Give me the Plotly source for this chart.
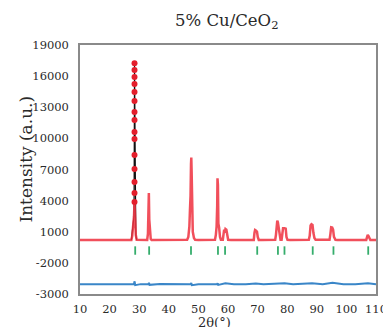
import plotly.graph_objects as go

# ---------------- data ----------------
# observed profile (2theta, intensity)
obs_two_theta = [
    10, 12, 14, 16, 18, 20, 22, 24, 26,
    27.35, 27.65, 27.95, 28.25, 28.42, 28.6, 28.85, 29.15,
    30, 31,
    32.7, 32.95, 33.12, 33.26, 33.4, 33.6, 33.9, 34.2,
    35, 37, 39, 41, 43, 45,
    46.2, 46.6, 46.95, 47.15, 47.35, 47.5, 47.6, 47.7, 47.85, 48.1, 48.5, 48.9,
    50, 52, 54,
    55.6, 55.9, 56.15, 56.35, 56.45, 56.6, 56.75, 57.0, 57.3, 57.6,
    58.25, 58.55, 58.7, 58.9, 59.15, 59.45, 59.7, 60.05,
    61, 63, 65, 67, 68.5,
    68.7, 68.95, 69.15, 69.5, 69.8, 70.05, 70.4,
    71.5, 73, 75,
    75.95, 76.2, 76.45, 76.65, 76.85, 77.1, 77.35, 77.75,
    78.1, 78.4, 78.6, 79.1, 79.5, 79.75, 80.1,
    81, 83, 85,
    87.3, 87.6, 87.9, 88.2, 88.55, 88.85, 89.2, 89.6,
    90.5, 92,
    94.3, 94.6, 94.85, 95.2, 95.5, 95.8, 96.3,
    97, 99, 101, 103, 105,
    106.7, 107.0, 107.2, 107.45, 107.7, 108.1,
    108.5, 110,
]
obs_intensity = [
    205, 210, 200, 215, 205, 210, 200, 210, 205,
    210, 600, 1400, 2500, 3870, 2000, 700, 220,
    210, 205,
    210, 800, 2500, 4740, 2200, 800, 300, 210,
    210, 205, 210, 200, 205, 210,
    220, 500, 1500, 3100, 4500, 7500, 8160, 7000, 2500, 1000, 400, 220,
    210, 205, 200,
    220, 700, 1500, 3500, 6150, 5500, 1800, 1400, 500, 230,
    230, 700, 1200, 900, 1270, 1200, 500, 220,
    210, 205, 200, 210, 205,
    210, 900, 1170, 1100, 1000, 500, 210,
    205, 210, 205,
    230, 700, 1700, 2070, 1900, 1300, 600, 230,
    230, 1000, 1330, 1330, 1300, 500, 220,
    205, 210, 200,
    220, 600, 1600, 1720, 1650, 900, 400, 220,
    210, 205,
    220, 800, 1430, 1400, 1200, 500, 220,
    205, 210, 200, 205, 210,
    210, 500, 690, 600, 350, 210,
    205, 205,
]

# observed points at the top of the strongest reflection (shown as separate dots)
peak_top_two_theta = [28.42] * 15
peak_top_intensity = [17240, 16590, 15920, 15240, 14470, 13600, 12540, 11770,
                      10610, 9940, 8400, 7050, 5800, 4740, 3870]

# calculated profile around the strongest reflection
calc_two_theta = [27.35, 27.95, 28.25, 28.42, 28.6, 28.85, 29.15]
calc_intensity = [210, 1400, 2500, 17240, 2000, 700, 220]

# difference curve
diff_two_theta = [10, 15, 20, 25, 28.2, 28.45, 28.65, 30.5, 33.1, 33.3, 33.5, 37, 41, 44.5,
                  47.4, 47.6, 47.8, 50, 53, 56.3, 56.5, 56.7, 59.1, 62, 66, 69.4,
                  72, 76.8, 79.1, 82, 85, 88.4, 92, 95.3, 99, 103, 107.3, 110]
diff_intensity = [-4050, -4040, -4060, -4050, -4060, -3780, -4150, -4050, -4060, -3920, -4120,
                  -4040, -4060, -4050, -4070, -3930, -4150, -4050, -4040, -4070, -3960, -4120,
                  -3970, -4050, -4060, -3990, -4050, -3960, -3970, -4050, -4040, -3970, -4050,
                  -3920, -4050, -4060, -3970, -4050]

# Bragg reflection positions (CeO2)
bragg_two_theta = [28.65, 33.36, 47.5, 56.61, 59.01, 69.87, 76.87, 79.08, 88.62, 95.63, 107.37]
bragg_level = -810

# axes
x_ticks = [10, 20, 30, 40, 50, 60, 70, 80, 90, 100, 110]
y_tickvals = [-5000, -2000, 1000, 4000, 7000, 10000, 13000, 16000, 19000]
y_ticktext = ["-3000", "-2000", "1000", "4000", "7000", "10000", "13000", "16000", "19000"]

FONT = "DejaVu Serif"
TXT = "#2a2a2a"

fig = go.Figure()

fig.add_trace(go.Scatter(x=calc_two_theta, y=calc_intensity, mode="lines",
                         line=dict(color="#111111", width=1.2), showlegend=False))
fig.add_trace(go.Scatter(x=obs_two_theta, y=obs_intensity, mode="lines",
                         line=dict(color="rgba(238,48,62,0.85)", width=2.5), showlegend=False))
fig.add_trace(go.Scatter(x=peak_top_two_theta, y=peak_top_intensity, mode="markers",
                         marker=dict(color="#e41f2c", size=6), showlegend=False))
fig.add_trace(go.Scatter(x=bragg_two_theta, y=[bragg_level] * len(bragg_two_theta), mode="markers",
                         marker=dict(symbol="line-ns", size=6,
                                     line=dict(color="#35ad6c", width=1.8)),
                         showlegend=False))
fig.add_trace(go.Scatter(x=diff_two_theta, y=diff_intensity, mode="lines",
                         line=dict(color="#3a86c8", width=2), showlegend=False))

fig.update_layout(
    width=391, height=327,
    margin=dict(l=72, r=15, t=37, b=41),
    paper_bgcolor="white", plot_bgcolor="white",
    font=dict(family=FONT, color=TXT, size=11.5),
    showlegend=False,
    annotations=[
        dict(text="5% Cu/CeO<sub>2</sub>", xref="paper", yref="paper", x=0.497, y=1,
             yshift=24, showarrow=False, xanchor="center", yanchor="middle",
             font=dict(family=FONT, size=16.5, color=TXT)),
        dict(text="2θ(°)", xref="paper", yref="paper", x=0.454, y=0, yshift=-28,
             showarrow=False, xanchor="center", yanchor="middle",
             font=dict(family=FONT, size=13, color=TXT)),
        dict(text="Intensity (a.u.)", xref="paper", yref="paper", x=0, xshift=-54,
             y=0.54, showarrow=False, textangle=-90, xanchor="center", yanchor="middle",
             font=dict(family=FONT, size=17, color=TXT)),
    ],
)
fig.update_xaxes(range=[10, 110], tickvals=x_ticks, ticks="", showgrid=False, zeroline=False,
                 showline=True, linecolor="#8a8a8a", linewidth=1.5, mirror=True,
                 ticklabelstandoff=3, tickfont=dict(size=11.5))
fig.update_yaxes(range=[-5000, 19000], tickvals=y_tickvals, ticktext=y_ticktext, ticks="",
                 showgrid=False, zeroline=False, showline=True, linecolor="#8a8a8a",
                 linewidth=1.5, mirror=True, ticklabelstandoff=7, tickfont=dict(size=11.5))

fig.write_html("out.html")
